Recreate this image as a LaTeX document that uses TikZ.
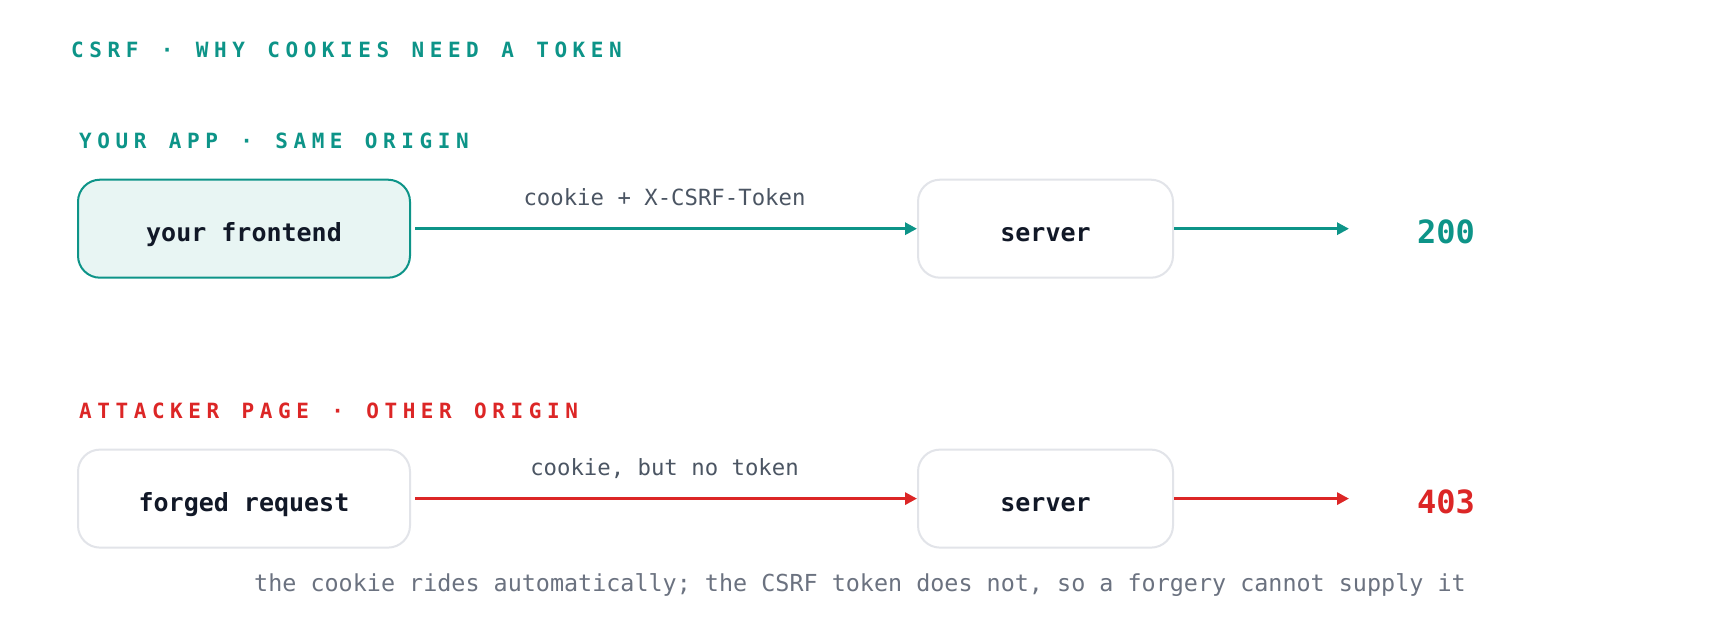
\documentclass[tikz,border=0pt]{standalone}
\usepackage{fontspec}
\setmonofont{DejaVu Sans Mono}
\newfontfamily\capsfont[LetterSpace=26.5,WordSpace=1.23]{DejaVu Sans Mono}
\usetikzlibrary{arrows.meta}
\definecolor{teal}{RGB}{13,148,136}
\definecolor{alert}{RGB}{220,38,38}
\definecolor{bordergray}{RGB}{226,228,233}
\definecolor{tealfill}{RGB}{232,245,243}
\definecolor{labelgray}{RGB}{75,85,99}
\definecolor{footgray}{RGB}{107,114,128}
\definecolor{ink}{RGB}{17,24,39}
\tikzset{
  box/.style={draw=bordergray, line width=2pt, rounded corners=22pt, fill=white,
    minimum height=98pt, inner sep=0pt, text height=25.6pt, text depth=0pt,
    font=\fontsize{25}{30}\selectfont\ttfamily\bfseries, text=ink},
  wide/.style={minimum width=332pt},
  srvbox/.style={minimum width=255pt},
  heading/.style={anchor=base west, inner sep=0pt,
    font=\fontsize{21}{25}\selectfont\capsfont\bfseries},
  edgelabel/.style={anchor=base, inner sep=0pt, text=labelgray,
    font=\fontsize{22.3}{26}\selectfont\ttfamily},
  code/.style={anchor=base, inner sep=0pt,
    font=\fontsize{32}{38}\selectfont\ttfamily\bfseries},
  flow/.style={line width=3pt, -{Triangle[length=12pt,width=12pt]}, shorten <=4pt},
}
\begin{document}
\begin{tikzpicture}[x=1pt,y=-1pt]
\useasboundingbox (0,0) rectangle (1720,626);
\fill[white] (0,0) rectangle (1720,626);

\node[heading, text=teal] (title) at (71,58) {CSRF · WHY COOKIES NEED A TOKEN};
\node[heading, text=teal] (sec1) at (79,148) {YOUR APP · SAME ORIGIN};
\node[heading, text=alert] (sec2) at (79,418) {ATTACKER PAGE · OTHER ORIGIN};

% top row
\node[box, wide, draw=teal, fill=tealfill] (fe) at (244,228.7) {your frontend};
\node[box, srvbox] (srv1) at (1045.5,228.7) {server};
\coordinate (end1) at (1349,228.7);
\draw[flow, teal] (fe.east) -- (srv1.west);
\draw[flow, teal, shorten <=0pt] (srv1.east) -- (end1);
\node[edgelabel] (lab1) at (664.5,205.5) {cookie + X-CSRF-Token};
\node[code, text=teal] (ok) at (1446,243) {200};

% bottom row
\node[box, wide] (fr) at (244,498.6) {forged request};
\node[box, srvbox] (srv2) at (1045.5,498.6) {server};
\coordinate (end2) at (1349,498.6);
\draw[flow, alert] (fr.east) -- (srv2.west);
\draw[flow, alert, shorten <=0pt] (srv2.east) -- (end2);
\node[edgelabel] (lab2) at (664.5,475.5) {cookie, but no token};
\node[code, text=alert] (no) at (1446,513) {403};

\node[anchor=base, inner sep=0pt, text=footgray,
  font=\fontsize{23.4}{28}\selectfont\ttfamily] (foot) at (860,591)
  {the cookie rides automatically; the CSRF token does not, so a forgery cannot supply it};
\end{tikzpicture}
\end{document}
